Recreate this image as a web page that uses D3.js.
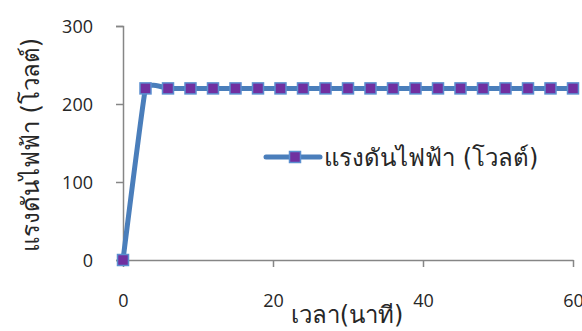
<!DOCTYPE html>
<html><head><meta charset="utf-8">
<script src="https://cdn.jsdelivr.net/npm/d3@7"></script>
<style>body{margin:0;background:#fff;overflow:hidden}svg{display:block}</style>
</head><body>
<svg id="c" width="582" height="331"></svg>
<script>
const times = [0,3,6,9,12,15,18,21,24,27,30,33,36,39,42,45,48,51,54,57,60];
const voltage = [0,220,220,220,220,220,220,220,220,220,220,220,220,220,220,220,220,220,220,220,220];
const xTicks = [0,20,40,60];
const yTicks = [0,100,200,300];
const seriesName = "แรงดันไฟฟ้า (โวลต์)";
const xTitle = "เวลา(นาที)";
const yTitle = "แรงดันไฟฟ้า (โวลต์)";

const numFont = "'Open Sans', 'DejaVu Sans', sans-serif";
const font = "Tahoma, 'DejaVu Sans', 'Noto Sans', sans-serif";
const svg = d3.select("#c");
const x = d3.scaleLinear().domain([0,60]).range([123,573]);
const y = d3.scaleLinear().domain([0,300]).range([260,26]);
const axisColor = "#868686";

// y axis
const ya = svg.append("g").attr("transform","translate(123,0)")
  .call(d3.axisLeft(y).tickValues(yTicks).tickSize(7).tickPadding(23).tickFormat(d3.format("d")));
ya.select(".domain").attr("stroke",axisColor).attr("stroke-width",1.5);
ya.selectAll(".tick line").attr("stroke",axisColor).attr("stroke-width",1.5);
ya.selectAll(".tick text").attr("font-family",numFont).attr("font-size",18).attr("fill","#262626").attr("dy","0.35em");

// x axis
const xa = svg.append("g").attr("transform","translate(0,260)")
  .call(d3.axisBottom(x).tickValues(xTicks).tickSize(7).tickSizeOuter(0).tickPadding(27).tickFormat(d3.format("d")));
xa.select(".domain").attr("stroke",axisColor).attr("stroke-width",1.5);
xa.selectAll(".tick line").attr("stroke",axisColor).attr("stroke-width",1.5);
xa.selectAll(".tick text").attr("font-family",numFont).attr("font-size",18).attr("fill","#262626");

// titles
svg.append("text").attr("x",347).attr("y",323).attr("text-anchor","middle")
  .attr("font-family",font).attr("font-size",24).attr("fill","#262626").text(xTitle);
svg.append("text").attr("transform","translate(39,145) rotate(-90)").attr("text-anchor","middle")
  .attr("font-family",font).attr("font-size",24).attr("fill","#262626").text(yTitle);

// line
const line = d3.line().x((d,i)=>x(times[i])).y(d=>y(d)).curve(d3.curveCardinal.tension(0.75));
svg.append("path").datum(voltage).attr("d",line).attr("fill","none")
  .attr("stroke","#4A7EBB").attr("stroke-width",5).attr("stroke-linejoin","round").attr("stroke-linecap","round");

const ms = 11;
svg.selectAll("rect.m").data(voltage).enter().append("rect").attr("class","m")
  .attr("x",(d,i)=>x(times[i])-ms/2).attr("y",d=>y(d)-ms/2)
  .attr("width",ms).attr("height",ms)
  .attr("fill","#7030A0").attr("stroke","#5B8FD0").attr("stroke-width",1.5);

// legend
const lg = svg.append("g");
lg.append("line").attr("x1",266).attr("x2",320).attr("y1",157).attr("y2",157)
  .attr("stroke","#4A7EBB").attr("stroke-width",5).attr("stroke-linecap","round");
lg.append("rect").attr("x",295-ms/2).attr("y",157-ms/2).attr("width",ms).attr("height",ms)
  .attr("fill","#7030A0").attr("stroke","#5B8FD0").attr("stroke-width",1.5);
lg.append("text").attr("x",324).attr("y",166).attr("font-family",font).attr("font-size",24).attr("fill","#262626").text(seriesName);
</script>
</body></html>
